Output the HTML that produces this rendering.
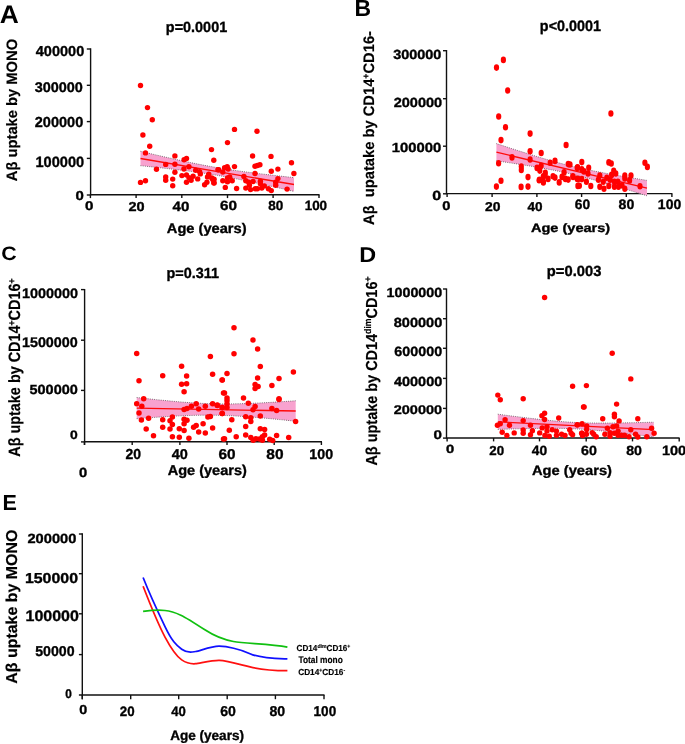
<!DOCTYPE html>
<html><head><meta charset="utf-8"><style>
html,body{margin:0;padding:0;background:#fff;width:685px;height:744px;overflow:hidden}
svg{display:block;will-change:transform;filter:blur(0.25px)}
text{font-family:"Liberation Sans",sans-serif;text-rendering:geometricPrecision;stroke:#000;stroke-width:0.35px}
</style></head><body>
<svg width="685" height="744" viewBox="0 0 685 744">
<text transform="translate(-0.36,22.80) scale(1.031,1)" font-size="25.61" fill="#000" font-weight="bold" style="stroke-width:0px">A</text>
<text transform="translate(354.61,15.80) scale(0.979,1)" font-size="23.45" fill="#000" font-weight="bold" style="stroke-width:0px">B</text>
<text transform="translate(1.25,260.10) scale(1.099,1)" font-size="19.44" fill="#000" font-weight="bold" style="stroke-width:0px">C</text>
<text transform="translate(359.28,261.50) scale(1.100,1)" font-size="21.29" fill="#000" font-weight="bold" style="stroke-width:0px">D</text>
<text transform="translate(2.50,510.10) scale(0.987,1)" font-size="21.87" fill="#000" font-weight="bold" style="stroke-width:0px">E</text>
<text transform="translate(165.86,31.60) scale(0.973,1)" font-size="14.82" fill="#000" font-weight="bold">p=0.0001</text>
<line x1="90.6" y1="48.3" x2="90.6" y2="195.39999999999998" stroke="#111" stroke-width="1.4"/>
<line x1="90.6" y1="194.7" x2="319.5" y2="194.7" stroke="#111" stroke-width="1.4"/>
<line x1="86.8" y1="49" x2="90.6" y2="49" stroke="#111" stroke-width="1.4"/>
<line x1="86.8" y1="85.3" x2="90.6" y2="85.3" stroke="#111" stroke-width="1.4"/>
<line x1="86.8" y1="121.6" x2="90.6" y2="121.6" stroke="#111" stroke-width="1.4"/>
<line x1="86.8" y1="158.4" x2="90.6" y2="158.4" stroke="#111" stroke-width="1.4"/>
<line x1="86.8" y1="195.0" x2="90.6" y2="195.0" stroke="#111" stroke-width="1.4"/>
<line x1="90.4" y1="194.7" x2="90.4" y2="198.1" stroke="#111" stroke-width="1.4"/>
<line x1="136.1" y1="194.7" x2="136.1" y2="198.1" stroke="#111" stroke-width="1.4"/>
<line x1="181.8" y1="194.7" x2="181.8" y2="198.1" stroke="#111" stroke-width="1.4"/>
<line x1="227.5" y1="194.7" x2="227.5" y2="198.1" stroke="#111" stroke-width="1.4"/>
<line x1="273.1" y1="194.7" x2="273.1" y2="198.1" stroke="#111" stroke-width="1.4"/>
<line x1="319.0" y1="194.7" x2="319.0" y2="198.1" stroke="#111" stroke-width="1.4"/>
<text transform="translate(35.78,56.00) scale(1.011,1)" font-size="14.39" fill="#000" font-weight="bold">400000</text>
<text transform="translate(34.64,92.00) scale(1.036,1)" font-size="13.96" fill="#000" font-weight="bold">300000</text>
<text transform="translate(34.79,127.20) scale(1.001,1)" font-size="14.53" fill="#000" font-weight="bold">200000</text>
<text transform="translate(35.42,166.80) scale(0.977,1)" font-size="14.96" fill="#000" font-weight="bold">100000</text>
<text transform="translate(75.60,200.10) scale(1.154,1)" font-size="12.95" fill="#000" font-weight="bold">0</text>
<text transform="translate(85.09,209.70) scale(1.211,1)" font-size="12.52" fill="#000" font-weight="bold">0</text>
<text transform="translate(128.49,210.50) scale(1.107,1)" font-size="13.09" fill="#000" font-weight="bold">20</text>
<text transform="translate(172.57,210.50) scale(1.126,1)" font-size="13.38" fill="#000" font-weight="bold">40</text>
<text transform="translate(219.97,210.40) scale(1.141,1)" font-size="13.38" fill="#000" font-weight="bold">60</text>
<text transform="translate(268.30,210.40) scale(1.006,1)" font-size="13.38" fill="#000" font-weight="bold">80</text>
<text transform="translate(304.69,210.40) scale(1.003,1)" font-size="13.38" fill="#000" font-weight="bold">100</text>
<text transform="translate(166.83,232.80) scale(1.061,1)" font-size="13.81" fill="#000" font-weight="bold">Age (years)</text>
<text transform="translate(17.30,181.17) rotate(-90) scale(0.9773,1)" font-size="15.07" fill="#000" font-weight="bold" style="stroke-width:0.18px">Aβ uptake by MONO</text>
<polygon points="140.50,151.30 144.34,152.21 148.18,153.11 152.01,154.01 155.85,154.90 159.69,155.78 163.53,156.66 167.36,157.54 171.20,158.40 175.04,159.25 178.88,160.10 182.71,160.93 186.55,161.75 190.39,162.56 194.22,163.35 198.06,164.12 201.90,164.87 205.74,165.60 209.57,166.30 213.41,166.99 217.25,167.65 221.09,168.29 224.93,168.91 228.76,169.50 232.60,170.08 236.44,170.64 240.28,171.18 244.11,171.70 247.95,172.21 251.79,172.71 255.62,173.20 259.46,173.67 263.30,174.14 267.14,174.59 270.98,175.04 274.81,175.48 278.65,175.91 282.49,176.34 286.32,176.77 290.16,177.18 294.00,177.60 294.00,191.40 290.16,190.52 286.32,189.63 282.49,188.76 278.65,187.89 274.81,187.02 270.98,186.16 267.14,185.31 263.30,184.46 259.46,183.63 255.62,182.80 251.79,181.99 247.95,181.19 244.11,180.40 240.28,179.62 236.44,178.86 232.60,178.12 228.76,177.40 224.93,176.69 221.09,176.01 217.25,175.35 213.41,174.71 209.57,174.10 205.74,173.50 201.90,172.93 198.06,172.38 194.22,171.85 190.39,171.34 186.55,170.85 182.71,170.37 178.88,169.90 175.04,169.45 171.20,169.00 167.36,168.56 163.53,168.14 159.69,167.72 155.85,167.30 152.01,166.89 148.18,166.49 144.34,166.09 140.50,165.70" fill="#f8a2cf"/>
<polyline points="140.50,151.30 144.34,152.21 148.18,153.11 152.01,154.01 155.85,154.90 159.69,155.78 163.53,156.66 167.36,157.54 171.20,158.40 175.04,159.25 178.88,160.10 182.71,160.93 186.55,161.75 190.39,162.56 194.22,163.35 198.06,164.12 201.90,164.87 205.74,165.60 209.57,166.30 213.41,166.99 217.25,167.65 221.09,168.29 224.93,168.91 228.76,169.50 232.60,170.08 236.44,170.64 240.28,171.18 244.11,171.70 247.95,172.21 251.79,172.71 255.62,173.20 259.46,173.67 263.30,174.14 267.14,174.59 270.98,175.04 274.81,175.48 278.65,175.91 282.49,176.34 286.32,176.77 290.16,177.18 294.00,177.60" fill="none" stroke="#444" stroke-width="0.75" stroke-dasharray="0.9,1.3"/>
<polyline points="140.50,165.70 144.34,166.09 148.18,166.49 152.01,166.89 155.85,167.30 159.69,167.72 163.53,168.14 167.36,168.56 171.20,169.00 175.04,169.45 178.88,169.90 182.71,170.37 186.55,170.85 190.39,171.34 194.22,171.85 198.06,172.38 201.90,172.93 205.74,173.50 209.57,174.10 213.41,174.71 217.25,175.35 221.09,176.01 224.93,176.69 228.76,177.40 232.60,178.12 236.44,178.86 240.28,179.62 244.11,180.40 247.95,181.19 251.79,181.99 255.62,182.80 259.46,183.63 263.30,184.46 267.14,185.31 270.98,186.16 274.81,187.02 278.65,187.89 282.49,188.76 286.32,189.63 290.16,190.52 294.00,191.40" fill="none" stroke="#444" stroke-width="0.75" stroke-dasharray="0.9,1.3"/>
<line x1="140.5" y1="158.5" x2="294.0" y2="184.5" stroke="#ff0a0a" stroke-width="1.3"/>
<circle cx="140.5" cy="85.5" r="2.7" fill="#ff0000"/>
<circle cx="147.5" cy="107.6" r="2.7" fill="#ff0000"/>
<circle cx="152.3" cy="119.7" r="2.7" fill="#ff0000"/>
<circle cx="142.9" cy="135.0" r="2.7" fill="#ff0000"/>
<circle cx="149.7" cy="146.3" r="2.7" fill="#ff0000"/>
<circle cx="145.5" cy="152.9" r="2.7" fill="#ff0000"/>
<circle cx="211.5" cy="149.6" r="2.7" fill="#ff0000"/>
<circle cx="213.8" cy="160.2" r="2.7" fill="#ff0000"/>
<circle cx="174.9" cy="155.9" r="2.7" fill="#ff0000"/>
<circle cx="165.7" cy="164.4" r="2.7" fill="#ff0000"/>
<circle cx="174.9" cy="164.2" r="2.7" fill="#ff0000"/>
<circle cx="184.1" cy="159.8" r="2.7" fill="#ff0000"/>
<circle cx="186.5" cy="158.5" r="2.7" fill="#ff0000"/>
<circle cx="156.5" cy="169.3" r="2.7" fill="#ff0000"/>
<circle cx="174.9" cy="172.3" r="2.7" fill="#ff0000"/>
<circle cx="165.7" cy="176.9" r="2.7" fill="#ff0000"/>
<circle cx="165.7" cy="180.2" r="2.7" fill="#ff0000"/>
<circle cx="172.7" cy="179.1" r="2.7" fill="#ff0000"/>
<circle cx="172.7" cy="185.8" r="2.7" fill="#ff0000"/>
<circle cx="140.5" cy="182.4" r="2.7" fill="#ff0000"/>
<circle cx="145.5" cy="180.8" r="2.7" fill="#ff0000"/>
<circle cx="183.9" cy="169.0" r="2.7" fill="#ff0000"/>
<circle cx="188.9" cy="166.8" r="2.7" fill="#ff0000"/>
<circle cx="181.9" cy="175.6" r="2.7" fill="#ff0000"/>
<circle cx="186.5" cy="174.9" r="2.7" fill="#ff0000"/>
<circle cx="188.9" cy="177.6" r="2.7" fill="#ff0000"/>
<circle cx="191.1" cy="180.2" r="2.7" fill="#ff0000"/>
<circle cx="186.5" cy="182.2" r="2.7" fill="#ff0000"/>
<circle cx="195.7" cy="170.3" r="2.7" fill="#ff0000"/>
<circle cx="199.6" cy="171.6" r="2.7" fill="#ff0000"/>
<circle cx="200.3" cy="173.9" r="2.7" fill="#ff0000"/>
<circle cx="193.1" cy="176.2" r="2.7" fill="#ff0000"/>
<circle cx="197.7" cy="178.9" r="2.7" fill="#ff0000"/>
<circle cx="208.8" cy="174.3" r="2.7" fill="#ff0000"/>
<circle cx="207.5" cy="176.9" r="2.7" fill="#ff0000"/>
<circle cx="212.8" cy="179.5" r="2.7" fill="#ff0000"/>
<circle cx="213.8" cy="182.8" r="2.7" fill="#ff0000"/>
<circle cx="206.9" cy="182.2" r="2.7" fill="#ff0000"/>
<circle cx="204.6" cy="184.8" r="2.7" fill="#ff0000"/>
<circle cx="218.0" cy="169.7" r="2.7" fill="#ff0000"/>
<circle cx="234.5" cy="129.4" r="2.7" fill="#ff0000"/>
<circle cx="257.0" cy="131.2" r="2.7" fill="#ff0000"/>
<circle cx="227.5" cy="142.6" r="2.7" fill="#ff0000"/>
<circle cx="252.6" cy="156.0" r="2.7" fill="#ff0000"/>
<circle cx="271.0" cy="156.4" r="2.7" fill="#ff0000"/>
<circle cx="291.5" cy="162.8" r="2.7" fill="#ff0000"/>
<circle cx="293.9" cy="173.5" r="2.7" fill="#ff0000"/>
<circle cx="277.9" cy="169.1" r="2.7" fill="#ff0000"/>
<circle cx="271.3" cy="171.3" r="2.7" fill="#ff0000"/>
<circle cx="234.5" cy="166.6" r="2.7" fill="#ff0000"/>
<circle cx="255.0" cy="166.2" r="2.7" fill="#ff0000"/>
<circle cx="257.4" cy="165.5" r="2.7" fill="#ff0000"/>
<circle cx="259.9" cy="164.7" r="2.7" fill="#ff0000"/>
<circle cx="255.0" cy="173.5" r="2.7" fill="#ff0000"/>
<circle cx="218.5" cy="169.6" r="2.7" fill="#ff0000"/>
<circle cx="222.8" cy="172.0" r="2.7" fill="#ff0000"/>
<circle cx="224.6" cy="167.7" r="2.7" fill="#ff0000"/>
<circle cx="227.2" cy="166.6" r="2.7" fill="#ff0000"/>
<circle cx="228.2" cy="169.1" r="2.7" fill="#ff0000"/>
<circle cx="211.8" cy="177.9" r="2.7" fill="#ff0000"/>
<circle cx="214.1" cy="179.3" r="2.7" fill="#ff0000"/>
<circle cx="214.1" cy="183.0" r="2.7" fill="#ff0000"/>
<circle cx="222.8" cy="180.8" r="2.7" fill="#ff0000"/>
<circle cx="227.5" cy="177.9" r="2.7" fill="#ff0000"/>
<circle cx="229.7" cy="176.9" r="2.7" fill="#ff0000"/>
<circle cx="227.5" cy="181.8" r="2.7" fill="#ff0000"/>
<circle cx="232.2" cy="180.8" r="2.7" fill="#ff0000"/>
<circle cx="225.3" cy="187.4" r="2.7" fill="#ff0000"/>
<circle cx="236.6" cy="188.5" r="2.7" fill="#ff0000"/>
<circle cx="243.9" cy="176.4" r="2.7" fill="#ff0000"/>
<circle cx="245.8" cy="180.8" r="2.7" fill="#ff0000"/>
<circle cx="248.7" cy="182.3" r="2.7" fill="#ff0000"/>
<circle cx="253.1" cy="181.5" r="2.7" fill="#ff0000"/>
<circle cx="249.4" cy="185.2" r="2.7" fill="#ff0000"/>
<circle cx="245.8" cy="188.1" r="2.7" fill="#ff0000"/>
<circle cx="250.6" cy="189.6" r="2.7" fill="#ff0000"/>
<circle cx="255.3" cy="188.8" r="2.7" fill="#ff0000"/>
<circle cx="257.4" cy="188.8" r="2.7" fill="#ff0000"/>
<circle cx="260.4" cy="181.2" r="2.7" fill="#ff0000"/>
<circle cx="260.4" cy="183.7" r="2.7" fill="#ff0000"/>
<circle cx="264.3" cy="185.9" r="2.7" fill="#ff0000"/>
<circle cx="261.8" cy="188.1" r="2.7" fill="#ff0000"/>
<circle cx="268.4" cy="188.8" r="2.7" fill="#ff0000"/>
<circle cx="271.3" cy="190.6" r="2.7" fill="#ff0000"/>
<circle cx="275.7" cy="182.3" r="2.7" fill="#ff0000"/>
<circle cx="277.9" cy="178.6" r="2.7" fill="#ff0000"/>
<circle cx="275.7" cy="185.2" r="2.7" fill="#ff0000"/>
<circle cx="287.1" cy="189.1" r="2.7" fill="#ff0000"/>
<text transform="translate(539.87,30.80) scale(0.950,1)" font-size="15.11" fill="#000" font-weight="bold">p&lt;0.0001</text>
<line x1="446.5" y1="50.0" x2="446.5" y2="194.29999999999998" stroke="#111" stroke-width="1.4"/>
<line x1="446.5" y1="193.6" x2="672.3" y2="193.6" stroke="#111" stroke-width="1.4"/>
<line x1="443.0" y1="50.7" x2="446.5" y2="50.7" stroke="#111" stroke-width="1.4"/>
<line x1="443.0" y1="98.7" x2="446.5" y2="98.7" stroke="#111" stroke-width="1.4"/>
<line x1="443.0" y1="146.2" x2="446.5" y2="146.2" stroke="#111" stroke-width="1.4"/>
<line x1="443.0" y1="193.8" x2="446.5" y2="193.8" stroke="#111" stroke-width="1.4"/>
<line x1="447.1" y1="193.6" x2="447.1" y2="197.0" stroke="#111" stroke-width="1.4"/>
<line x1="492.1" y1="193.6" x2="492.1" y2="197.0" stroke="#111" stroke-width="1.4"/>
<line x1="536.9" y1="193.6" x2="536.9" y2="197.0" stroke="#111" stroke-width="1.4"/>
<line x1="581.6" y1="193.6" x2="581.6" y2="197.0" stroke="#111" stroke-width="1.4"/>
<line x1="626.3" y1="193.6" x2="626.3" y2="197.0" stroke="#111" stroke-width="1.4"/>
<line x1="671.9" y1="193.6" x2="671.9" y2="197.0" stroke="#111" stroke-width="1.4"/>
<text transform="translate(393.14,58.70) scale(1.093,1)" font-size="13.24" fill="#000" font-weight="bold">300000</text>
<text transform="translate(393.69,106.90) scale(1.098,1)" font-size="13.24" fill="#000" font-weight="bold">200000</text>
<text transform="translate(391.81,151.70) scale(1.119,1)" font-size="13.24" fill="#000" font-weight="bold">100000</text>
<text transform="translate(432.36,199.70) scale(1.209,1)" font-size="13.24" fill="#000" font-weight="bold">0</text>
<text transform="translate(442.31,209.70) scale(1.177,1)" font-size="12.52" fill="#000" font-weight="bold">0</text>
<text transform="translate(484.91,210.60) scale(1.086,1)" font-size="12.81" fill="#000" font-weight="bold">20</text>
<text transform="translate(527.50,210.60) scale(1.058,1)" font-size="12.81" fill="#000" font-weight="bold">40</text>
<text transform="translate(574.72,209.40) scale(1.011,1)" font-size="13.67" fill="#000" font-weight="bold">60</text>
<text transform="translate(618.58,209.40) scale(1.034,1)" font-size="13.67" fill="#000" font-weight="bold">80</text>
<text transform="translate(657.86,209.40) scale(1.024,1)" font-size="13.67" fill="#000" font-weight="bold">100</text>
<text transform="translate(530.94,232.40) scale(1.190,1)" font-size="12.23" fill="#000" font-weight="bold">Age (years)</text>
<text transform="translate(373.60,224.97) rotate(-90) scale(0.9663,1)" font-size="15.22" fill="#000" font-weight="bold" style="stroke-width:0.18px">Aβ&#160; upatake by CD14<tspan font-size="60%" dy="-5">+</tspan><tspan dy="5">CD16-</tspan></text>
<polygon points="496.40,143.60 500.16,144.83 503.93,146.06 507.69,147.28 511.46,148.50 515.23,149.71 518.99,150.91 522.75,152.11 526.52,153.30 530.28,154.48 534.05,155.64 537.81,156.80 541.58,157.93 545.35,159.05 549.11,160.15 552.88,161.22 556.64,162.27 560.40,163.29 564.17,164.28 567.93,165.23 571.70,166.15 575.47,167.04 579.23,167.90 583.00,168.73 586.76,169.54 590.52,170.32 594.29,171.08 598.05,171.83 601.82,172.55 605.59,173.26 609.35,173.95 613.12,174.64 616.88,175.31 620.64,175.97 624.41,176.62 628.17,177.27 631.94,177.90 635.70,178.53 639.47,179.16 643.24,179.78 647.00,180.40 647.00,195.80 643.24,194.62 639.47,193.45 635.70,192.28 631.94,191.12 628.17,189.96 624.41,188.81 620.64,187.67 616.88,186.53 613.12,185.41 609.35,184.30 605.59,183.20 601.82,182.11 598.05,181.04 594.29,179.99 590.52,178.96 586.76,177.94 583.00,176.96 579.23,175.99 575.47,175.06 571.70,174.15 567.93,173.27 564.17,172.43 560.40,171.62 556.64,170.85 552.88,170.10 549.11,169.38 545.35,168.68 541.58,168.01 537.81,167.35 534.05,166.71 530.28,166.08 526.52,165.46 522.75,164.85 518.99,164.26 515.23,163.67 511.46,163.08 507.69,162.50 503.93,161.93 500.16,161.36 496.40,160.80" fill="#f8a2cf"/>
<polyline points="496.40,143.60 500.16,144.83 503.93,146.06 507.69,147.28 511.46,148.50 515.23,149.71 518.99,150.91 522.75,152.11 526.52,153.30 530.28,154.48 534.05,155.64 537.81,156.80 541.58,157.93 545.35,159.05 549.11,160.15 552.88,161.22 556.64,162.27 560.40,163.29 564.17,164.28 567.93,165.23 571.70,166.15 575.47,167.04 579.23,167.90 583.00,168.73 586.76,169.54 590.52,170.32 594.29,171.08 598.05,171.83 601.82,172.55 605.59,173.26 609.35,173.95 613.12,174.64 616.88,175.31 620.64,175.97 624.41,176.62 628.17,177.27 631.94,177.90 635.70,178.53 639.47,179.16 643.24,179.78 647.00,180.40" fill="none" stroke="#444" stroke-width="0.75" stroke-dasharray="0.9,1.3"/>
<polyline points="496.40,160.80 500.16,161.36 503.93,161.93 507.69,162.50 511.46,163.08 515.23,163.67 518.99,164.26 522.75,164.85 526.52,165.46 530.28,166.08 534.05,166.71 537.81,167.35 541.58,168.01 545.35,168.68 549.11,169.38 552.88,170.10 556.64,170.85 560.40,171.62 564.17,172.43 567.93,173.27 571.70,174.15 575.47,175.06 579.23,175.99 583.00,176.96 586.76,177.94 590.52,178.96 594.29,179.99 598.05,181.04 601.82,182.11 605.59,183.20 609.35,184.30 613.12,185.41 616.88,186.53 620.64,187.67 624.41,188.81 628.17,189.96 631.94,191.12 635.70,192.28 639.47,193.45 643.24,194.62 647.00,195.80" fill="none" stroke="#444" stroke-width="0.75" stroke-dasharray="0.9,1.3"/>
<line x1="496.4" y1="152.2" x2="647.0" y2="188.1" stroke="#ff0a0a" stroke-width="1.3"/>
<ellipse cx="503.4" cy="59.9" rx="2.6" ry="3.3" fill="#ff0000"/>
<ellipse cx="496.5" cy="67.6" rx="2.6" ry="3.3" fill="#ff0000"/>
<ellipse cx="507.7" cy="90.5" rx="2.6" ry="3.3" fill="#ff0000"/>
<ellipse cx="498.7" cy="116.5" rx="2.6" ry="3.3" fill="#ff0000"/>
<ellipse cx="505.5" cy="127.2" rx="2.6" ry="3.3" fill="#ff0000"/>
<ellipse cx="530.1" cy="133.6" rx="2.6" ry="3.3" fill="#ff0000"/>
<ellipse cx="501.0" cy="140.1" rx="2.6" ry="3.3" fill="#ff0000"/>
<ellipse cx="566.1" cy="145.0" rx="2.6" ry="3.3" fill="#ff0000"/>
<ellipse cx="530.1" cy="151.2" rx="2.6" ry="3.3" fill="#ff0000"/>
<ellipse cx="541.2" cy="153.0" rx="2.6" ry="3.3" fill="#ff0000"/>
<ellipse cx="512.0" cy="157.4" rx="2.6" ry="3.3" fill="#ff0000"/>
<ellipse cx="530.1" cy="159.5" rx="2.6" ry="3.3" fill="#ff0000"/>
<ellipse cx="498.6" cy="163.3" rx="2.6" ry="3.3" fill="#ff0000"/>
<ellipse cx="550.2" cy="162.7" rx="2.6" ry="3.3" fill="#ff0000"/>
<ellipse cx="555.0" cy="160.9" rx="2.6" ry="3.3" fill="#ff0000"/>
<ellipse cx="568.2" cy="164.1" rx="2.6" ry="3.3" fill="#ff0000"/>
<ellipse cx="521.3" cy="166.5" rx="2.6" ry="3.3" fill="#ff0000"/>
<ellipse cx="521.3" cy="169.9" rx="2.6" ry="3.3" fill="#ff0000"/>
<ellipse cx="537.0" cy="167.9" rx="2.6" ry="3.3" fill="#ff0000"/>
<ellipse cx="541.2" cy="165.8" rx="2.6" ry="3.3" fill="#ff0000"/>
<ellipse cx="539.8" cy="170.6" rx="2.6" ry="3.3" fill="#ff0000"/>
<ellipse cx="545.3" cy="172.7" rx="2.6" ry="3.3" fill="#ff0000"/>
<ellipse cx="543.3" cy="176.2" rx="2.6" ry="3.3" fill="#ff0000"/>
<ellipse cx="528.0" cy="177.1" rx="2.6" ry="3.3" fill="#ff0000"/>
<ellipse cx="501.0" cy="180.7" rx="2.6" ry="3.3" fill="#ff0000"/>
<ellipse cx="496.4" cy="186.6" rx="2.6" ry="3.3" fill="#ff0000"/>
<ellipse cx="521.1" cy="186.9" rx="2.6" ry="3.3" fill="#ff0000"/>
<ellipse cx="528.0" cy="186.6" rx="2.6" ry="3.3" fill="#ff0000"/>
<ellipse cx="539.1" cy="180.3" rx="2.6" ry="3.3" fill="#ff0000"/>
<ellipse cx="543.3" cy="181.7" rx="2.6" ry="3.3" fill="#ff0000"/>
<ellipse cx="548.1" cy="178.9" rx="2.6" ry="3.3" fill="#ff0000"/>
<ellipse cx="553.0" cy="176.2" rx="2.6" ry="3.3" fill="#ff0000"/>
<ellipse cx="555.0" cy="177.6" rx="2.6" ry="3.3" fill="#ff0000"/>
<ellipse cx="559.2" cy="182.4" rx="2.6" ry="3.3" fill="#ff0000"/>
<ellipse cx="562.0" cy="176.9" rx="2.6" ry="3.3" fill="#ff0000"/>
<ellipse cx="564.1" cy="172.4" rx="2.6" ry="3.3" fill="#ff0000"/>
<ellipse cx="568.2" cy="179.6" rx="2.6" ry="3.3" fill="#ff0000"/>
<ellipse cx="565.4" cy="178.9" rx="2.6" ry="3.3" fill="#ff0000"/>
<ellipse cx="573.1" cy="176.9" rx="2.6" ry="3.3" fill="#ff0000"/>
<ellipse cx="577.2" cy="167.9" rx="2.6" ry="3.3" fill="#ff0000"/>
<ellipse cx="577.2" cy="178.9" rx="2.6" ry="3.3" fill="#ff0000"/>
<ellipse cx="577.9" cy="185.9" rx="2.6" ry="3.3" fill="#ff0000"/>
<ellipse cx="610.9" cy="113.5" rx="2.6" ry="3.3" fill="#ff0000"/>
<ellipse cx="581.8" cy="162.1" rx="2.6" ry="3.3" fill="#ff0000"/>
<ellipse cx="608.8" cy="162.4" rx="2.6" ry="3.3" fill="#ff0000"/>
<ellipse cx="611.3" cy="163.5" rx="2.6" ry="3.3" fill="#ff0000"/>
<ellipse cx="644.9" cy="162.7" rx="2.6" ry="3.3" fill="#ff0000"/>
<ellipse cx="647.4" cy="166.9" rx="2.6" ry="3.3" fill="#ff0000"/>
<ellipse cx="570.0" cy="164.5" rx="2.6" ry="3.3" fill="#ff0000"/>
<ellipse cx="577.6" cy="167.3" rx="2.6" ry="3.3" fill="#ff0000"/>
<ellipse cx="581.8" cy="169.3" rx="2.6" ry="3.3" fill="#ff0000"/>
<ellipse cx="588.7" cy="167.7" rx="2.6" ry="3.3" fill="#ff0000"/>
<ellipse cx="583.9" cy="171.4" rx="2.6" ry="3.3" fill="#ff0000"/>
<ellipse cx="588.0" cy="173.5" rx="2.6" ry="3.3" fill="#ff0000"/>
<ellipse cx="572.8" cy="176.3" rx="2.6" ry="3.3" fill="#ff0000"/>
<ellipse cx="578.3" cy="179.1" rx="2.6" ry="3.3" fill="#ff0000"/>
<ellipse cx="581.8" cy="179.1" rx="2.6" ry="3.3" fill="#ff0000"/>
<ellipse cx="586.4" cy="181.8" rx="2.6" ry="3.3" fill="#ff0000"/>
<ellipse cx="579.4" cy="185.7" rx="2.6" ry="3.3" fill="#ff0000"/>
<ellipse cx="590.8" cy="186.0" rx="2.6" ry="3.3" fill="#ff0000"/>
<ellipse cx="599.8" cy="175.6" rx="2.6" ry="3.3" fill="#ff0000"/>
<ellipse cx="598.4" cy="179.7" rx="2.6" ry="3.3" fill="#ff0000"/>
<ellipse cx="603.3" cy="181.8" rx="2.6" ry="3.3" fill="#ff0000"/>
<ellipse cx="606.8" cy="177.7" rx="2.6" ry="3.3" fill="#ff0000"/>
<ellipse cx="611.6" cy="174.9" rx="2.6" ry="3.3" fill="#ff0000"/>
<ellipse cx="613.7" cy="170.7" rx="2.6" ry="3.3" fill="#ff0000"/>
<ellipse cx="615.8" cy="173.5" rx="2.6" ry="3.3" fill="#ff0000"/>
<ellipse cx="610.2" cy="179.7" rx="2.6" ry="3.3" fill="#ff0000"/>
<ellipse cx="614.4" cy="181.8" rx="2.6" ry="3.3" fill="#ff0000"/>
<ellipse cx="617.9" cy="181.8" rx="2.6" ry="3.3" fill="#ff0000"/>
<ellipse cx="599.8" cy="186.7" rx="2.6" ry="3.3" fill="#ff0000"/>
<ellipse cx="604.0" cy="188.8" rx="2.6" ry="3.3" fill="#ff0000"/>
<ellipse cx="608.8" cy="186.0" rx="2.6" ry="3.3" fill="#ff0000"/>
<ellipse cx="614.4" cy="186.7" rx="2.6" ry="3.3" fill="#ff0000"/>
<ellipse cx="618.5" cy="186.7" rx="2.6" ry="3.3" fill="#ff0000"/>
<ellipse cx="624.8" cy="175.6" rx="2.6" ry="3.3" fill="#ff0000"/>
<ellipse cx="624.8" cy="178.4" rx="2.6" ry="3.3" fill="#ff0000"/>
<ellipse cx="631.0" cy="175.6" rx="2.6" ry="3.3" fill="#ff0000"/>
<ellipse cx="629.6" cy="180.4" rx="2.6" ry="3.3" fill="#ff0000"/>
<ellipse cx="622.0" cy="185.3" rx="2.6" ry="3.3" fill="#ff0000"/>
<ellipse cx="624.8" cy="188.8" rx="2.6" ry="3.3" fill="#ff0000"/>
<ellipse cx="640.0" cy="186.3" rx="2.6" ry="3.3" fill="#ff0000"/>
<ellipse cx="539.5" cy="179.8" rx="2.6" ry="3.3" fill="#ff0000"/>
<ellipse cx="543.4" cy="182.4" rx="2.6" ry="3.3" fill="#ff0000"/>
<ellipse cx="545.1" cy="175.4" rx="2.6" ry="3.3" fill="#ff0000"/>
<text transform="translate(166.46,277.80) scale(0.981,1)" font-size="14.68" fill="#000" font-weight="bold">p=0.311</text>
<line x1="84.6" y1="289.0" x2="84.6" y2="445.0" stroke="#111" stroke-width="1.4"/>
<line x1="84.6" y1="441.8" x2="322.0" y2="441.8" stroke="#111" stroke-width="1.4"/>
<line x1="81.0" y1="289.6" x2="84.6" y2="289.6" stroke="#111" stroke-width="1.4"/>
<line x1="81.0" y1="340.2" x2="84.6" y2="340.2" stroke="#111" stroke-width="1.4"/>
<line x1="81.0" y1="390.4" x2="84.6" y2="390.4" stroke="#111" stroke-width="1.4"/>
<line x1="81.0" y1="441.9" x2="84.6" y2="441.9" stroke="#111" stroke-width="1.4"/>
<line x1="84.4" y1="441.8" x2="84.4" y2="445.0" stroke="#111" stroke-width="1.4"/>
<line x1="132.2" y1="441.8" x2="132.2" y2="445.0" stroke="#111" stroke-width="1.4"/>
<line x1="179.9" y1="441.8" x2="179.9" y2="445.0" stroke="#111" stroke-width="1.4"/>
<line x1="227.0" y1="441.8" x2="227.0" y2="445.0" stroke="#111" stroke-width="1.4"/>
<line x1="274.2" y1="441.8" x2="274.2" y2="445.0" stroke="#111" stroke-width="1.4"/>
<line x1="321.4" y1="441.8" x2="321.4" y2="445.0" stroke="#111" stroke-width="1.4"/>
<text transform="translate(21.94,297.80) scale(1.043,1)" font-size="13.81" fill="#000" font-weight="bold">1000000</text>
<text transform="translate(21.94,346.90) scale(1.027,1)" font-size="13.96" fill="#000" font-weight="bold">1500000</text>
<text transform="translate(29.47,394.00) scale(1.094,1)" font-size="13.24" fill="#000" font-weight="bold">500000</text>
<text transform="translate(70.04,439.20) scale(1.150,1)" font-size="12.09" fill="#000" font-weight="bold">0</text>
<text transform="translate(79.11,477.20) scale(1.113,1)" font-size="13.24" fill="#000" font-weight="bold">0</text>
<text transform="translate(125.41,458.80) scale(0.964,1)" font-size="14.53" fill="#000" font-weight="bold">20</text>
<text transform="translate(171.78,458.60) scale(1.018,1)" font-size="14.24" fill="#000" font-weight="bold">40</text>
<text transform="translate(218.56,458.60) scale(1.078,1)" font-size="14.24" fill="#000" font-weight="bold">60</text>
<text transform="translate(266.34,458.60) scale(1.087,1)" font-size="14.24" fill="#000" font-weight="bold">80</text>
<text transform="translate(309.35,458.60) scale(1.000,1)" font-size="14.24" fill="#000" font-weight="bold">100</text>
<text transform="translate(167.64,474.70) scale(1.032,1)" font-size="14.10" fill="#000" font-weight="bold">Age (years)</text>
<text transform="translate(19.90,456.75) rotate(-90) scale(0.8805,1)" font-size="16.38" fill="#000" font-weight="bold" style="stroke-width:0.18px">Aβ uptake by CD14<tspan font-size="60%" dy="-5">+</tspan><tspan dy="5">CD16</tspan><tspan font-size="60%" dy="-5">+</tspan></text>
<polygon points="136.70,397.50 140.67,397.95 144.65,398.39 148.62,398.82 152.60,399.25 156.57,399.67 160.55,400.08 164.52,400.47 168.50,400.86 172.47,401.23 176.45,401.59 180.42,401.93 184.40,402.25 188.38,402.55 192.35,402.82 196.32,403.07 200.30,403.29 204.27,403.48 208.25,403.64 212.22,403.76 216.20,403.85 220.17,403.91 224.15,403.93 228.12,403.92 232.10,403.89 236.07,403.82 240.05,403.73 244.02,403.62 248.00,403.48 251.97,403.33 255.95,403.15 259.92,402.96 263.90,402.76 267.88,402.54 271.85,402.31 275.82,402.07 279.80,401.82 283.77,401.56 287.75,401.30 291.73,401.03 295.70,400.75 295.70,421.25 291.73,420.83 287.75,420.41 283.77,420.00 279.80,419.60 275.82,419.20 271.85,418.82 267.88,418.44 263.90,418.08 259.92,417.73 255.95,417.40 251.97,417.08 248.00,416.78 244.02,416.50 240.05,416.24 236.07,416.00 232.10,415.79 228.12,415.61 224.15,415.46 220.17,415.34 216.20,415.25 212.22,415.19 208.25,415.17 204.27,415.18 200.30,415.23 196.32,415.30 192.35,415.41 188.38,415.54 184.40,415.69 180.42,415.87 176.45,416.06 172.47,416.27 168.50,416.50 164.52,416.74 160.55,416.99 156.57,417.26 152.60,417.53 148.62,417.81 144.65,418.10 140.67,418.40 136.70,418.70" fill="#f8a2cf"/>
<polyline points="136.70,397.50 140.67,397.95 144.65,398.39 148.62,398.82 152.60,399.25 156.57,399.67 160.55,400.08 164.52,400.47 168.50,400.86 172.47,401.23 176.45,401.59 180.42,401.93 184.40,402.25 188.38,402.55 192.35,402.82 196.32,403.07 200.30,403.29 204.27,403.48 208.25,403.64 212.22,403.76 216.20,403.85 220.17,403.91 224.15,403.93 228.12,403.92 232.10,403.89 236.07,403.82 240.05,403.73 244.02,403.62 248.00,403.48 251.97,403.33 255.95,403.15 259.92,402.96 263.90,402.76 267.88,402.54 271.85,402.31 275.82,402.07 279.80,401.82 283.77,401.56 287.75,401.30 291.73,401.03 295.70,400.75" fill="none" stroke="#444" stroke-width="0.75" stroke-dasharray="0.9,1.3"/>
<polyline points="136.70,418.70 140.67,418.40 144.65,418.10 148.62,417.81 152.60,417.53 156.57,417.26 160.55,416.99 164.52,416.74 168.50,416.50 172.47,416.27 176.45,416.06 180.42,415.87 184.40,415.69 188.38,415.54 192.35,415.41 196.32,415.30 200.30,415.23 204.27,415.18 208.25,415.17 212.22,415.19 216.20,415.25 220.17,415.34 224.15,415.46 228.12,415.61 232.10,415.79 236.07,416.00 240.05,416.24 244.02,416.50 248.00,416.78 251.97,417.08 255.95,417.40 259.92,417.73 263.90,418.08 267.88,418.44 271.85,418.82 275.82,419.20 279.80,419.60 283.77,420.00 287.75,420.41 291.73,420.83 295.70,421.25" fill="none" stroke="#444" stroke-width="0.75" stroke-dasharray="0.9,1.3"/>
<line x1="136.7" y1="408.1" x2="295.7" y2="411.0" stroke="#ff0a0a" stroke-width="1.3"/>
<circle cx="136.7" cy="353.5" r="2.75" fill="#ff0000"/>
<circle cx="210.4" cy="356.4" r="2.75" fill="#ff0000"/>
<circle cx="181.6" cy="366.2" r="2.75" fill="#ff0000"/>
<circle cx="162.7" cy="375.7" r="2.75" fill="#ff0000"/>
<circle cx="186.6" cy="376.1" r="2.75" fill="#ff0000"/>
<circle cx="212.6" cy="374.2" r="2.75" fill="#ff0000"/>
<circle cx="222.1" cy="380.1" r="2.75" fill="#ff0000"/>
<circle cx="139.0" cy="380.8" r="2.75" fill="#ff0000"/>
<circle cx="181.6" cy="384.2" r="2.75" fill="#ff0000"/>
<circle cx="186.6" cy="383.7" r="2.75" fill="#ff0000"/>
<circle cx="184.1" cy="391.8" r="2.75" fill="#ff0000"/>
<circle cx="223.5" cy="392.9" r="2.75" fill="#ff0000"/>
<circle cx="143.7" cy="398.8" r="2.75" fill="#ff0000"/>
<circle cx="136.7" cy="403.7" r="2.75" fill="#ff0000"/>
<circle cx="141.8" cy="406.2" r="2.75" fill="#ff0000"/>
<circle cx="139.0" cy="413.0" r="2.75" fill="#ff0000"/>
<circle cx="141.4" cy="420.0" r="2.75" fill="#ff0000"/>
<circle cx="148.6" cy="418.3" r="2.75" fill="#ff0000"/>
<circle cx="146.2" cy="429.1" r="2.75" fill="#ff0000"/>
<circle cx="153.5" cy="435.7" r="2.75" fill="#ff0000"/>
<circle cx="162.7" cy="419.7" r="2.75" fill="#ff0000"/>
<circle cx="162.7" cy="427.3" r="2.75" fill="#ff0000"/>
<circle cx="170.0" cy="420.8" r="2.75" fill="#ff0000"/>
<circle cx="172.4" cy="417.1" r="2.75" fill="#ff0000"/>
<circle cx="172.4" cy="424.4" r="2.75" fill="#ff0000"/>
<circle cx="170.0" cy="429.1" r="2.75" fill="#ff0000"/>
<circle cx="172.4" cy="436.8" r="2.75" fill="#ff0000"/>
<circle cx="179.3" cy="428.8" r="2.75" fill="#ff0000"/>
<circle cx="179.3" cy="437.3" r="2.75" fill="#ff0000"/>
<circle cx="184.1" cy="419.3" r="2.75" fill="#ff0000"/>
<circle cx="187.0" cy="420.3" r="2.75" fill="#ff0000"/>
<circle cx="184.1" cy="423.7" r="2.75" fill="#ff0000"/>
<circle cx="184.1" cy="430.5" r="2.75" fill="#ff0000"/>
<circle cx="184.1" cy="409.5" r="2.75" fill="#ff0000"/>
<circle cx="187.0" cy="408.4" r="2.75" fill="#ff0000"/>
<circle cx="191.4" cy="406.2" r="2.75" fill="#ff0000"/>
<circle cx="196.2" cy="403.7" r="2.75" fill="#ff0000"/>
<circle cx="198.7" cy="409.1" r="2.75" fill="#ff0000"/>
<circle cx="205.3" cy="406.2" r="2.75" fill="#ff0000"/>
<circle cx="212.6" cy="403.7" r="2.75" fill="#ff0000"/>
<circle cx="217.3" cy="405.1" r="2.75" fill="#ff0000"/>
<circle cx="222.1" cy="407.6" r="2.75" fill="#ff0000"/>
<circle cx="222.1" cy="413.5" r="2.75" fill="#ff0000"/>
<circle cx="207.9" cy="417.1" r="2.75" fill="#ff0000"/>
<circle cx="210.4" cy="416.4" r="2.75" fill="#ff0000"/>
<circle cx="203.1" cy="423.7" r="2.75" fill="#ff0000"/>
<circle cx="196.2" cy="425.6" r="2.75" fill="#ff0000"/>
<circle cx="193.6" cy="427.3" r="2.75" fill="#ff0000"/>
<circle cx="198.7" cy="432.0" r="2.75" fill="#ff0000"/>
<circle cx="205.3" cy="432.9" r="2.75" fill="#ff0000"/>
<circle cx="212.6" cy="428.1" r="2.75" fill="#ff0000"/>
<circle cx="188.9" cy="438.3" r="2.75" fill="#ff0000"/>
<circle cx="223.5" cy="439.0" r="2.75" fill="#ff0000"/>
<circle cx="234.0" cy="327.8" r="2.75" fill="#ff0000"/>
<circle cx="253.0" cy="339.9" r="2.75" fill="#ff0000"/>
<circle cx="257.6" cy="349.1" r="2.75" fill="#ff0000"/>
<circle cx="234.0" cy="353.8" r="2.75" fill="#ff0000"/>
<circle cx="260.3" cy="366.5" r="2.75" fill="#ff0000"/>
<circle cx="293.4" cy="372.0" r="2.75" fill="#ff0000"/>
<circle cx="227.0" cy="373.5" r="2.75" fill="#ff0000"/>
<circle cx="222.3" cy="380.1" r="2.75" fill="#ff0000"/>
<circle cx="257.6" cy="377.9" r="2.75" fill="#ff0000"/>
<circle cx="279.0" cy="378.6" r="2.75" fill="#ff0000"/>
<circle cx="255.1" cy="384.5" r="2.75" fill="#ff0000"/>
<circle cx="258.1" cy="386.6" r="2.75" fill="#ff0000"/>
<circle cx="255.1" cy="388.5" r="2.75" fill="#ff0000"/>
<circle cx="271.9" cy="385.6" r="2.75" fill="#ff0000"/>
<circle cx="224.5" cy="392.9" r="2.75" fill="#ff0000"/>
<circle cx="227.0" cy="398.0" r="2.75" fill="#ff0000"/>
<circle cx="243.5" cy="398.0" r="2.75" fill="#ff0000"/>
<circle cx="279.0" cy="398.8" r="2.75" fill="#ff0000"/>
<circle cx="227.0" cy="400.8" r="2.75" fill="#ff0000"/>
<circle cx="227.0" cy="404.0" r="2.75" fill="#ff0000"/>
<circle cx="227.0" cy="407.6" r="2.75" fill="#ff0000"/>
<circle cx="217.2" cy="405.4" r="2.75" fill="#ff0000"/>
<circle cx="222.3" cy="407.6" r="2.75" fill="#ff0000"/>
<circle cx="222.3" cy="413.5" r="2.75" fill="#ff0000"/>
<circle cx="248.3" cy="403.2" r="2.75" fill="#ff0000"/>
<circle cx="255.1" cy="406.6" r="2.75" fill="#ff0000"/>
<circle cx="253.0" cy="409.8" r="2.75" fill="#ff0000"/>
<circle cx="271.9" cy="408.4" r="2.75" fill="#ff0000"/>
<circle cx="276.6" cy="410.5" r="2.75" fill="#ff0000"/>
<circle cx="279.0" cy="399.6" r="2.75" fill="#ff0000"/>
<circle cx="245.7" cy="416.8" r="2.75" fill="#ff0000"/>
<circle cx="250.8" cy="417.8" r="2.75" fill="#ff0000"/>
<circle cx="250.8" cy="421.5" r="2.75" fill="#ff0000"/>
<circle cx="260.3" cy="416.0" r="2.75" fill="#ff0000"/>
<circle cx="231.8" cy="419.7" r="2.75" fill="#ff0000"/>
<circle cx="295.6" cy="421.5" r="2.75" fill="#ff0000"/>
<circle cx="245.7" cy="426.6" r="2.75" fill="#ff0000"/>
<circle cx="229.3" cy="430.3" r="2.75" fill="#ff0000"/>
<circle cx="260.3" cy="428.8" r="2.75" fill="#ff0000"/>
<circle cx="264.6" cy="429.5" r="2.75" fill="#ff0000"/>
<circle cx="245.7" cy="434.9" r="2.75" fill="#ff0000"/>
<circle cx="236.2" cy="436.8" r="2.75" fill="#ff0000"/>
<circle cx="224.5" cy="438.7" r="2.75" fill="#ff0000"/>
<circle cx="250.8" cy="437.6" r="2.75" fill="#ff0000"/>
<circle cx="253.2" cy="440.2" r="2.75" fill="#ff0000"/>
<circle cx="255.9" cy="438.7" r="2.75" fill="#ff0000"/>
<circle cx="259.5" cy="439.0" r="2.75" fill="#ff0000"/>
<circle cx="262.4" cy="436.8" r="2.75" fill="#ff0000"/>
<circle cx="264.6" cy="434.9" r="2.75" fill="#ff0000"/>
<circle cx="262.4" cy="440.2" r="2.75" fill="#ff0000"/>
<circle cx="269.7" cy="439.3" r="2.75" fill="#ff0000"/>
<circle cx="272.7" cy="440.5" r="2.75" fill="#ff0000"/>
<circle cx="276.6" cy="435.4" r="2.75" fill="#ff0000"/>
<circle cx="288.7" cy="437.6" r="2.75" fill="#ff0000"/>
<text transform="translate(546.84,276.30) scale(0.995,1)" font-size="14.82" fill="#000" font-weight="bold">p=0.003</text>
<line x1="446.5" y1="288.5" x2="446.5" y2="438.7" stroke="#111" stroke-width="1.4"/>
<line x1="446.5" y1="438.0" x2="679.6" y2="438.0" stroke="#111" stroke-width="1.4"/>
<line x1="443.0" y1="289.0" x2="446.5" y2="289.0" stroke="#111" stroke-width="1.4"/>
<line x1="443.0" y1="318.7" x2="446.5" y2="318.7" stroke="#111" stroke-width="1.4"/>
<line x1="443.0" y1="348.3" x2="446.5" y2="348.3" stroke="#111" stroke-width="1.4"/>
<line x1="443.0" y1="378.4" x2="446.5" y2="378.4" stroke="#111" stroke-width="1.4"/>
<line x1="443.0" y1="408.4" x2="446.5" y2="408.4" stroke="#111" stroke-width="1.4"/>
<line x1="443.0" y1="438.1" x2="446.5" y2="438.1" stroke="#111" stroke-width="1.4"/>
<line x1="447.1" y1="438.0" x2="447.1" y2="441.4" stroke="#111" stroke-width="1.4"/>
<line x1="493.6" y1="438.0" x2="493.6" y2="441.4" stroke="#111" stroke-width="1.4"/>
<line x1="539.5" y1="438.0" x2="539.5" y2="441.4" stroke="#111" stroke-width="1.4"/>
<line x1="586.2" y1="438.0" x2="586.2" y2="441.4" stroke="#111" stroke-width="1.4"/>
<line x1="632.5" y1="438.0" x2="632.5" y2="441.4" stroke="#111" stroke-width="1.4"/>
<line x1="679.2" y1="438.0" x2="679.2" y2="441.4" stroke="#111" stroke-width="1.4"/>
<text transform="translate(386.54,297.20) scale(1.080,1)" font-size="13.24" fill="#000" font-weight="bold">1000000</text>
<text transform="translate(393.76,326.90) scale(1.097,1)" font-size="13.24" fill="#000" font-weight="bold">800000</text>
<text transform="translate(394.30,356.10) scale(1.061,1)" font-size="13.53" fill="#000" font-weight="bold">600000</text>
<text transform="translate(393.98,385.50) scale(1.092,1)" font-size="13.24" fill="#000" font-weight="bold">400000</text>
<text transform="translate(393.69,414.20) scale(1.148,1)" font-size="12.66" fill="#000" font-weight="bold">200000</text>
<text transform="translate(433.39,439.30) scale(1.197,1)" font-size="12.66" fill="#000" font-weight="bold">0</text>
<text transform="translate(446.11,453.10) scale(1.249,1)" font-size="11.80" fill="#000" font-weight="bold">0</text>
<text transform="translate(489.33,455.40) scale(1.018,1)" font-size="13.09" fill="#000" font-weight="bold">20</text>
<text transform="translate(531.79,455.20) scale(1.027,1)" font-size="13.38" fill="#000" font-weight="bold">40</text>
<text transform="translate(581.00,455.20) scale(1.061,1)" font-size="13.38" fill="#000" font-weight="bold">60</text>
<text transform="translate(626.18,455.20) scale(1.056,1)" font-size="13.38" fill="#000" font-weight="bold">80</text>
<text transform="translate(661.93,455.20) scale(1.084,1)" font-size="13.38" fill="#000" font-weight="bold">100</text>
<text transform="translate(532.03,474.70) scale(1.074,1)" font-size="13.67" fill="#000" font-weight="bold">Age (years)</text>
<text transform="translate(377.20,465.58) rotate(-90) scale(0.9065,1)" font-size="15.94" fill="#000" font-weight="bold" style="stroke-width:0.18px">Aβ uptake by CD14<tspan font-size="60%" dy="-5.8">dim</tspan><tspan dy="5.8">CD16</tspan><tspan font-size="60%" dy="-5.8">+</tspan></text>
<polygon points="497.80,414.20 501.70,414.71 505.60,415.22 509.50,415.72 513.40,416.22 517.30,416.71 521.20,417.20 525.10,417.68 529.00,418.15 532.90,418.62 536.80,419.07 540.70,419.52 544.60,419.94 548.50,420.36 552.40,420.75 556.30,421.12 560.20,421.46 564.10,421.77 568.00,422.05 571.90,422.29 575.80,422.50 579.70,422.67 583.60,422.81 587.50,422.91 591.40,422.99 595.30,423.04 599.20,423.07 603.10,423.08 607.00,423.07 610.90,423.04 614.80,423.00 618.70,422.95 622.60,422.89 626.50,422.83 630.40,422.75 634.30,422.67 638.20,422.58 642.10,422.49 646.00,422.40 649.90,422.30 653.80,422.20 653.80,437.00 649.90,436.51 646.00,436.02 642.10,435.54 638.20,435.06 634.30,434.58 630.40,434.11 626.50,433.64 622.60,433.19 618.70,432.74 614.80,432.30 610.90,431.87 607.00,431.45 603.10,431.05 599.20,430.67 595.30,430.31 591.40,429.97 587.50,429.66 583.60,429.37 579.70,429.12 575.80,428.90 571.90,428.72 568.00,428.57 564.10,428.46 560.20,428.38 556.30,428.33 552.40,428.31 548.50,428.31 544.60,428.34 540.70,428.37 536.80,428.43 532.90,428.49 529.00,428.57 525.10,428.65 521.20,428.74 517.30,428.84 513.40,428.94 509.50,429.05 505.60,429.16 501.70,429.28 497.80,429.40" fill="#f8a2cf"/>
<polyline points="497.80,414.20 501.70,414.71 505.60,415.22 509.50,415.72 513.40,416.22 517.30,416.71 521.20,417.20 525.10,417.68 529.00,418.15 532.90,418.62 536.80,419.07 540.70,419.52 544.60,419.94 548.50,420.36 552.40,420.75 556.30,421.12 560.20,421.46 564.10,421.77 568.00,422.05 571.90,422.29 575.80,422.50 579.70,422.67 583.60,422.81 587.50,422.91 591.40,422.99 595.30,423.04 599.20,423.07 603.10,423.08 607.00,423.07 610.90,423.04 614.80,423.00 618.70,422.95 622.60,422.89 626.50,422.83 630.40,422.75 634.30,422.67 638.20,422.58 642.10,422.49 646.00,422.40 649.90,422.30 653.80,422.20" fill="none" stroke="#444" stroke-width="0.75" stroke-dasharray="0.9,1.3"/>
<polyline points="497.80,429.40 501.70,429.28 505.60,429.16 509.50,429.05 513.40,428.94 517.30,428.84 521.20,428.74 525.10,428.65 529.00,428.57 532.90,428.49 536.80,428.43 540.70,428.37 544.60,428.34 548.50,428.31 552.40,428.31 556.30,428.33 560.20,428.38 564.10,428.46 568.00,428.57 571.90,428.72 575.80,428.90 579.70,429.12 583.60,429.37 587.50,429.66 591.40,429.97 595.30,430.31 599.20,430.67 603.10,431.05 607.00,431.45 610.90,431.87 614.80,432.30 618.70,432.74 622.60,433.19 626.50,433.64 630.40,434.11 634.30,434.58 638.20,435.06 642.10,435.54 646.00,436.02 649.90,436.51 653.80,437.00" fill="none" stroke="#444" stroke-width="0.75" stroke-dasharray="0.9,1.3"/>
<line x1="497.8" y1="421.8" x2="653.8" y2="429.6" stroke="#ff0a0a" stroke-width="1.3"/>
<circle cx="544.6" cy="297.5" r="2.7" fill="#ff0000"/>
<circle cx="572.6" cy="386.3" r="2.7" fill="#ff0000"/>
<circle cx="497.8" cy="395.1" r="2.7" fill="#ff0000"/>
<circle cx="500.3" cy="399.7" r="2.7" fill="#ff0000"/>
<circle cx="523.2" cy="398.7" r="2.7" fill="#ff0000"/>
<circle cx="583.5" cy="407.0" r="2.7" fill="#ff0000"/>
<circle cx="541.9" cy="415.8" r="2.7" fill="#ff0000"/>
<circle cx="544.6" cy="413.3" r="2.7" fill="#ff0000"/>
<circle cx="544.6" cy="419.5" r="2.7" fill="#ff0000"/>
<circle cx="558.7" cy="418.0" r="2.7" fill="#ff0000"/>
<circle cx="505.1" cy="419.7" r="2.7" fill="#ff0000"/>
<circle cx="523.2" cy="420.6" r="2.7" fill="#ff0000"/>
<circle cx="497.4" cy="425.3" r="2.7" fill="#ff0000"/>
<circle cx="500.3" cy="423.8" r="2.7" fill="#ff0000"/>
<circle cx="509.5" cy="425.3" r="2.7" fill="#ff0000"/>
<circle cx="530.5" cy="425.3" r="2.7" fill="#ff0000"/>
<circle cx="523.2" cy="430.0" r="2.7" fill="#ff0000"/>
<circle cx="523.2" cy="433.3" r="2.7" fill="#ff0000"/>
<circle cx="502.2" cy="432.3" r="2.7" fill="#ff0000"/>
<circle cx="506.9" cy="435.5" r="2.7" fill="#ff0000"/>
<circle cx="514.2" cy="432.9" r="2.7" fill="#ff0000"/>
<circle cx="532.4" cy="430.8" r="2.7" fill="#ff0000"/>
<circle cx="530.5" cy="434.8" r="2.7" fill="#ff0000"/>
<circle cx="539.7" cy="432.9" r="2.7" fill="#ff0000"/>
<circle cx="542.2" cy="427.9" r="2.7" fill="#ff0000"/>
<circle cx="547.0" cy="426.8" r="2.7" fill="#ff0000"/>
<circle cx="547.0" cy="431.1" r="2.7" fill="#ff0000"/>
<circle cx="544.9" cy="435.5" r="2.7" fill="#ff0000"/>
<circle cx="549.2" cy="436.2" r="2.7" fill="#ff0000"/>
<circle cx="552.2" cy="429.7" r="2.7" fill="#ff0000"/>
<circle cx="556.5" cy="431.1" r="2.7" fill="#ff0000"/>
<circle cx="556.5" cy="435.2" r="2.7" fill="#ff0000"/>
<circle cx="561.6" cy="434.3" r="2.7" fill="#ff0000"/>
<circle cx="565.0" cy="435.5" r="2.7" fill="#ff0000"/>
<circle cx="569.7" cy="429.7" r="2.7" fill="#ff0000"/>
<circle cx="571.1" cy="433.3" r="2.7" fill="#ff0000"/>
<circle cx="572.6" cy="434.8" r="2.7" fill="#ff0000"/>
<circle cx="577.3" cy="425.0" r="2.7" fill="#ff0000"/>
<circle cx="582.1" cy="423.8" r="2.7" fill="#ff0000"/>
<circle cx="582.1" cy="433.3" r="2.7" fill="#ff0000"/>
<circle cx="582.5" cy="435.5" r="2.7" fill="#ff0000"/>
<circle cx="612.2" cy="353.3" r="2.7" fill="#ff0000"/>
<circle cx="630.8" cy="378.9" r="2.7" fill="#ff0000"/>
<circle cx="586.4" cy="385.6" r="2.7" fill="#ff0000"/>
<circle cx="616.6" cy="404.1" r="2.7" fill="#ff0000"/>
<circle cx="584.1" cy="407.0" r="2.7" fill="#ff0000"/>
<circle cx="614.4" cy="414.3" r="2.7" fill="#ff0000"/>
<circle cx="614.4" cy="416.8" r="2.7" fill="#ff0000"/>
<circle cx="602.7" cy="418.7" r="2.7" fill="#ff0000"/>
<circle cx="637.8" cy="418.7" r="2.7" fill="#ff0000"/>
<circle cx="619.1" cy="420.9" r="2.7" fill="#ff0000"/>
<circle cx="577.2" cy="424.6" r="2.7" fill="#ff0000"/>
<circle cx="586.7" cy="426.0" r="2.7" fill="#ff0000"/>
<circle cx="586.7" cy="429.4" r="2.7" fill="#ff0000"/>
<circle cx="607.4" cy="428.2" r="2.7" fill="#ff0000"/>
<circle cx="613.0" cy="426.8" r="2.7" fill="#ff0000"/>
<circle cx="616.6" cy="426.0" r="2.7" fill="#ff0000"/>
<circle cx="630.8" cy="429.7" r="2.7" fill="#ff0000"/>
<circle cx="651.6" cy="428.2" r="2.7" fill="#ff0000"/>
<circle cx="654.1" cy="433.3" r="2.7" fill="#ff0000"/>
<circle cx="581.6" cy="433.3" r="2.7" fill="#ff0000"/>
<circle cx="586.4" cy="434.3" r="2.7" fill="#ff0000"/>
<circle cx="592.2" cy="432.6" r="2.7" fill="#ff0000"/>
<circle cx="593.7" cy="434.3" r="2.7" fill="#ff0000"/>
<circle cx="596.2" cy="436.7" r="2.7" fill="#ff0000"/>
<circle cx="604.9" cy="434.3" r="2.7" fill="#ff0000"/>
<circle cx="610.0" cy="432.6" r="2.7" fill="#ff0000"/>
<circle cx="610.0" cy="436.2" r="2.7" fill="#ff0000"/>
<circle cx="614.4" cy="433.3" r="2.7" fill="#ff0000"/>
<circle cx="618.1" cy="431.1" r="2.7" fill="#ff0000"/>
<circle cx="618.1" cy="435.2" r="2.7" fill="#ff0000"/>
<circle cx="621.7" cy="435.2" r="2.7" fill="#ff0000"/>
<circle cx="624.6" cy="435.2" r="2.7" fill="#ff0000"/>
<circle cx="629.0" cy="436.7" r="2.7" fill="#ff0000"/>
<circle cx="635.6" cy="434.3" r="2.7" fill="#ff0000"/>
<circle cx="637.8" cy="437.0" r="2.7" fill="#ff0000"/>
<circle cx="646.8" cy="436.7" r="2.7" fill="#ff0000"/>
<line x1="82.3" y1="533.3" x2="82.3" y2="699.2" stroke="#111" stroke-width="1.4"/>
<line x1="78.89999999999999" y1="695.0" x2="324.5" y2="695.0" stroke="#111" stroke-width="1.4"/>
<line x1="78.9" y1="534.0" x2="82.3" y2="534.0" stroke="#111" stroke-width="1.4"/>
<line x1="78.9" y1="573.7" x2="82.3" y2="573.7" stroke="#111" stroke-width="1.4"/>
<line x1="78.9" y1="613.8" x2="82.3" y2="613.8" stroke="#111" stroke-width="1.4"/>
<line x1="78.9" y1="654.6" x2="82.3" y2="654.6" stroke="#111" stroke-width="1.4"/>
<line x1="82.3" y1="695.0" x2="82.3" y2="699.2" stroke="#111" stroke-width="1.4"/>
<line x1="130.7" y1="695.0" x2="130.7" y2="699.2" stroke="#111" stroke-width="1.4"/>
<line x1="178.7" y1="695.0" x2="178.7" y2="699.2" stroke="#111" stroke-width="1.4"/>
<line x1="227.2" y1="695.0" x2="227.2" y2="699.2" stroke="#111" stroke-width="1.4"/>
<line x1="275.4" y1="695.0" x2="275.4" y2="699.2" stroke="#111" stroke-width="1.4"/>
<line x1="324.0" y1="695.0" x2="324.0" y2="699.2" stroke="#111" stroke-width="1.4"/>
<text transform="translate(27.49,542.70) scale(1.093,1)" font-size="13.38" fill="#000" font-weight="bold">200000</text>
<text transform="translate(24.94,582.50) scale(1.106,1)" font-size="14.39" fill="#000" font-weight="bold">150000</text>
<text transform="translate(25.54,620.60) scale(1.048,1)" font-size="15.25" fill="#000" font-weight="bold">100000</text>
<text transform="translate(35.17,656.20) scale(0.995,1)" font-size="14.24" fill="#000" font-weight="bold">50000</text>
<text transform="translate(65.33,697.60) scale(0.942,1)" font-size="12.52" fill="#000" font-weight="bold">0</text>
<text transform="translate(79.33,713.80) scale(1.093,1)" font-size="13.09" fill="#000" font-weight="bold">0</text>
<text transform="translate(119.83,716.10) scale(0.975,1)" font-size="13.67" fill="#000" font-weight="bold">20</text>
<text transform="translate(171.30,716.10) scale(0.964,1)" font-size="13.67" fill="#000" font-weight="bold">40</text>
<text transform="translate(220.21,715.70) scale(0.990,1)" font-size="14.24" fill="#000" font-weight="bold">60</text>
<text transform="translate(269.48,715.70) scale(0.992,1)" font-size="14.24" fill="#000" font-weight="bold">80</text>
<text transform="translate(313.59,715.70) scale(0.951,1)" font-size="14.24" fill="#000" font-weight="bold">100</text>
<text transform="translate(170.16,739.80) scale(0.992,1)" font-size="13.67" fill="#000" font-weight="bold">Age (years)</text>
<text transform="translate(16.50,683.80) rotate(-90) scale(1.0102,1)" font-size="15.80" fill="#000" font-weight="bold" style="stroke-width:0.18px">Aβ uptake by MONO</text>
<path d="M143.1,577.5 C150,595 158,612 165,626.6 S176,645 181.7,649.3 S192,652 195.7,651.5 S212,646 219.3,646.2 S240,649 250,653.7 S275,658.5 287.4,658.9" fill="none" stroke="#1010ff" stroke-width="1.75"/>
<path d="M143.1,586.3 C150,604 158,624 165,637.1 S176,656 181.7,659.9 S192,664 195.7,663.7 S212,660.2 219.3,660.4 S240,664.5 250,666.9 S275,670.6 287.4,670.7" fill="none" stroke="#ff1010" stroke-width="1.75"/>
<path d="M143.1,611.3 C150,610.5 158,609.8 165,610.5 S176,613 180.8,615.2 S196,624 205.3,630.1 S222,639.5 233.4,641.5 S270,644 287.4,647.1" fill="none" stroke="#10c010" stroke-width="1.75"/>
<text transform="translate(296.61,650.70) scale(0.9351,1)" font-size="8.70" fill="#000" font-weight="bold" style="stroke-width:0.15px">CD14<tspan font-size="5.5" dy="-3">dim</tspan><tspan dy="3">CD16</tspan><tspan font-size="5.5" dy="-3">+</tspan></text>
<text transform="translate(298.42,662.70) scale(0.867,1)" font-size="9.64" fill="#000" font-weight="bold" style="stroke-width:0.15px">Total mono</text>
<text transform="translate(298.21,674.50) scale(0.9491,1)" font-size="8.70" fill="#000" font-weight="bold" style="stroke-width:0.15px">CD14<tspan font-size="5.5" dy="-3">+</tspan><tspan dy="3">CD16</tspan><tspan font-size="5.5" dy="-3">-</tspan></text>
</svg>
</body></html>
